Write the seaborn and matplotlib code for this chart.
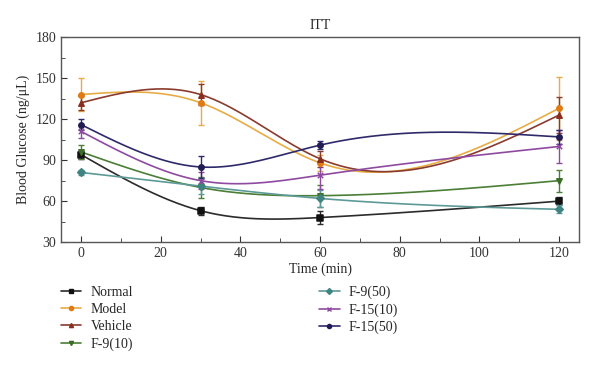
import numpy as np
import pandas as pd
import seaborn as sns
import matplotlib
matplotlib.use("Agg")
import matplotlib.pyplot as plt
from matplotlib.lines import Line2D
from matplotlib.ticker import MultipleLocator

# Data
time = [0, 30, 60, 120]
groups = ["Normal", "Model", "Vehicle", "F-9(10)", "F-9(50)", "F-15(10)", "F-15(50)"]
normal = [94, 53, 48, 60]
model = [138, 132, 88, 128]
vehicle = [132, 138, 91, 123]
f9_10 = [96, 70, 64, 75]
f9_50 = [81, 71, 62, 54]
f15_10 = [111, 75, 79, 100]
f15_50 = [116, 85, 101, 107]
normal_err = [3, 3, 5, 3]
model_err = [12, 16, 6, 23]
vehicle_err = [5, 8, 6, 13]
f9_10_err = [5, 8, 8, 8]
f9_50_err = [2, 6, 6, 3]
f15_10_err = [5, 6, 10, 12]
f15_50_err = [4, 8, 3, 5]

values = [normal, model, vehicle, f9_10, f9_50, f15_10, f15_50]
errors = [normal_err, model_err, vehicle_err, f9_10_err, f9_50_err, f15_10_err, f15_50_err]
line_colors = ["#2b2b2b", "#e8ac45", "#8a3b2e", "#4a7f35", "#5c9a98", "#8e4aa0", "#2e2a6a"]
mark_colors = ["#111111", "#e07a12", "#8a2e20", "#3a6e28", "#3f8480", "#8e4aa0", "#221c55"]
markers = ["s", "o", "^", "v", "D", "x", "o"]


def natural_spline(x, y, xs):
    x = np.asarray(x, float)
    y = np.asarray(y, float)
    n = len(x)
    h = np.diff(x)
    A = np.zeros((n, n))
    b = np.zeros(n)
    A[0, 0] = A[-1, -1] = 1
    for i in range(1, n - 1):
        A[i, i - 1] = h[i - 1]
        A[i, i] = 2 * (h[i - 1] + h[i])
        A[i, i + 1] = h[i]
        b[i] = 6 * ((y[i + 1] - y[i]) / h[i] - (y[i] - y[i - 1]) / h[i - 1])
    M = np.linalg.solve(A, b)
    out = np.empty_like(xs)
    for k, t in enumerate(xs):
        i = min(np.searchsorted(x, t, side="right") - 1, n - 2)
        i = max(i, 0)
        a, c = x[i + 1] - t, t - x[i]
        out[k] = (M[i] * a**3 + M[i + 1] * c**3) / (6 * h[i]) \
            + (y[i] / h[i] - M[i] * h[i] / 6) * a \
            + (y[i + 1] / h[i] - M[i + 1] * h[i] / 6) * c
    return out


xs = np.linspace(0, 120, 300)
curves = pd.concat([pd.DataFrame({"time": xs, "glucose": natural_spline(time, v, xs), "group": g})
                    for g, v in zip(groups, values)])

sns.set_style("ticks")
plt.rcParams["font.family"] = ["Liberation Serif", "DejaVu Serif"]

fig = plt.figure(figsize=(6, 3.68), dpi=100)
ax = fig.add_axes([0.102, 0.342, 0.863, 0.557])

sns.lineplot(data=curves, x="time", y="glucose", hue="group", palette=dict(zip(groups, line_colors)),
             lw=1.2, legend=False, ax=ax, sort=False)
for g, v, e, lc, mc, m in zip(groups, values, errors, line_colors, mark_colors, markers):
    ax.errorbar(time, v, yerr=e, fmt="none", ecolor=lc, elinewidth=1.0, capsize=2.2, capthick=1.0)
    ax.scatter(time, v, marker=m, color=mc, s=15, zorder=3, linewidths=1.1)

ax.set_xlim(-5, 125)
ax.set_ylim(30, 180)
ax.xaxis.set_major_locator(MultipleLocator(20))
ax.xaxis.set_minor_locator(MultipleLocator(10))
ax.yaxis.set_major_locator(MultipleLocator(30))
ax.yaxis.set_minor_locator(MultipleLocator(15))
ax.tick_params(which="both", direction="in", labelsize=10, colors="#333333")
ax.tick_params(which="major", length=4)
ax.tick_params(which="minor", length=3)
for s in ax.spines.values():
    s.set_color("#555555")
    s.set_linewidth(1)
ax.set_xlabel("Time (min)", fontsize=10, labelpad=2)
ax.set_ylabel("Blood Glucose (ng/μL)", fontsize=10, labelpad=4)
ax.set_title("ITT", fontsize=10, pad=6)

handles = [Line2D([0], [0], color=lc, lw=1.2, marker=m, markersize=3, markerfacecolor=mc,
                  markeredgecolor=mc) for lc, mc, m in zip(line_colors, mark_colors, markers)]
fig.legend(handles, groups, loc="upper left", bbox_to_anchor=(0.08, 0.258), ncol=2, frameon=False,
           fontsize=10, columnspacing=13.4, handlelength=1.5, labelspacing=0.3, handletextpad=0.65)

fig.savefig("out.png", dpi=100)
